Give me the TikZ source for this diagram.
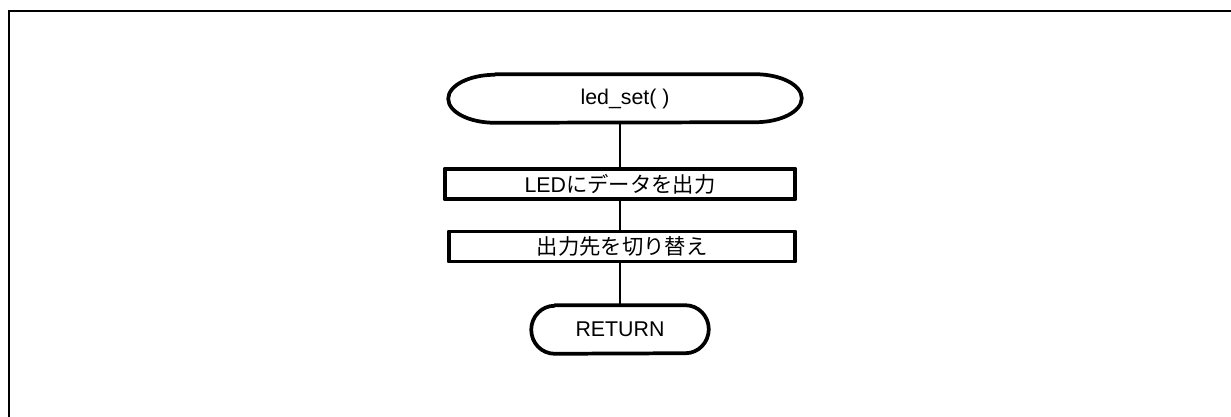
\documentclass[tikz,border=0pt]{standalone}
\usepackage{fontspec}
\setmainfont{Liberation Sans}
\newfontfamily\jp{Noto Sans CJK JP}
\usetikzlibrary{calc}

\tikzset{
  frameline/.style={line width=1.9pt},
  shapeline/.style={line width=2.8pt, line join=round},
  link/.style={line width=1.2pt},
  procbox/.style={draw, shapeline, inner sep=0pt, minimum height=23pt},
  termnode/.style={inner sep=0pt, minimum height=36pt},
}

\begin{document}
\begin{tikzpicture}[x=0.75pt, y=-0.75pt, font=\fontsize{16}{18}\selectfont]
  \useasboundingbox (0,0) rectangle (1231,417);
  \draw[frameline] (9,420) -- (9,11) -- (1234,11);

  % flowchart
  \node[termnode, minimum width=264.75pt] (start) at (625,98.5) {led\_set( )};
  \node[procbox, minimum width=263pt] (outled) at (620,184) {LED{\jp にデータを出力}};
  \node[procbox, minimum width=260pt, minimum height=22.5pt] (swap) at (622,246.5) {\jp 出力先を切り替え};
  \node[termnode, minimum width=132.75pt] (ret) at (620,329.5) {RETURN};

  % terminal outlines with elliptic ends
  \foreach \n/\r in {start/35pt, ret/17.5pt}
    \draw[shapeline] ($(\n.north west)+(\r,0pt)$) -- ($(\n.north east)+(-\r,0pt)$)
      arc[start angle=90, end angle=-90, x radius=\r, y radius=18pt]
      -- ($(\n.south west)+(\r,0pt)$)
      arc[start angle=270, end angle=90, x radius=\r, y radius=18pt] -- cycle;

  \draw[link] (outled.north) -- (outled.north |- start.south);
  \draw[link] (outled.south) -- (outled.south |- swap.north);
  \draw[link] (ret.north) -- (ret.north |- swap.south);
\end{tikzpicture}
\end{document}
